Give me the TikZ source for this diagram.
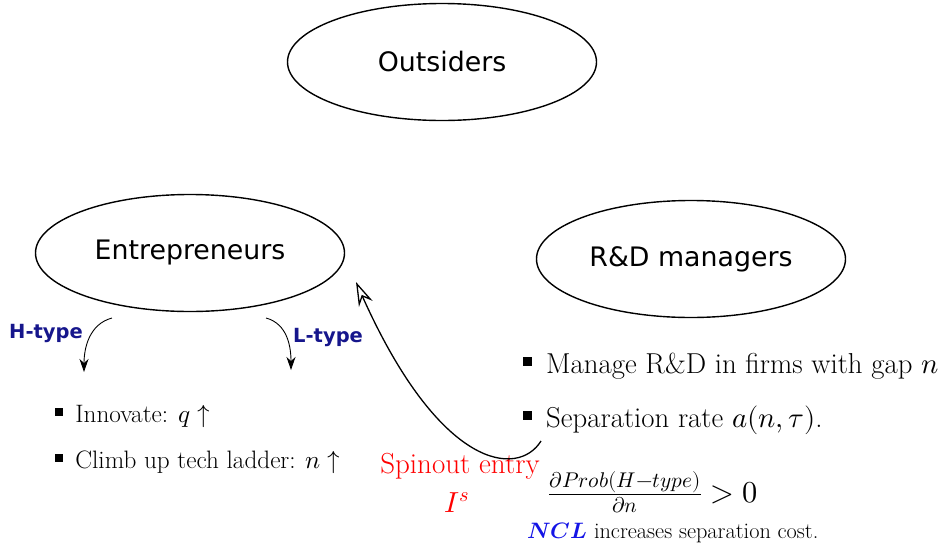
\documentclass[tikz,border=0pt]{standalone}
\usepackage{fontspec}
\usepackage{unicode-math}
\setmathfont{Latin Modern Math}
\usetikzlibrary{shapes.geometric,arrows.meta}
\newfontfamily\dv{DejaVu Sans}
\definecolor{hnavy}{RGB}{22,22,140}
\definecolor{ncblue}{RGB}{20,20,230}
\newcommand{\bsq}{\rule[0.25em]{0.3em}{0.3em}\hspace{0.5em}}
\begin{document}
\begin{tikzpicture}[x=1pt,y=-1pt,
  grp/.style={ellipse,draw,line width=1.4pt,minimum width=309pt,minimum height=117pt,inner sep=0pt,font=\dv\fontsize{26.8}{32}\selectfont},
  typelab/.style={text=hnavy,font=\dv\bfseries\fontsize{19.5}{23}\selectfont,inner sep=0pt},
  thinarr/.style={line width=0.9pt,-{Stealth[length=13pt,width=9pt,inset=4pt]}},
  lefttxt/.style={anchor=base west,inner sep=0pt,font=\fontsize{25.2}{30}\selectfont},
  righttxt/.style={anchor=base west,inner sep=0pt,font=\fontsize{28.8}{34}\selectfont}]
\useasboundingbox (0,0) rectangle (943,544);
\node[grp] (out) at (442,62) {Outsiders};
\node[grp] (ent) at (190,253) {Entrepreneurs};
\node[grp] (rd) at (691,259) {R\&D managers};
\node[typelab,anchor=base west] (ht) at (9,338) {H-type};
\node[typelab,anchor=base west] (lt) at (293,342) {L-type};
\coordinate (hs) at (112,318);
\coordinate (he) at (84,372);
\coordinate (ls) at (266,318);
\coordinate (le) at (291,370);
\draw[thinarr] (hs) to[out=195,in=90] (he);
\draw[thinarr] (ls) to[out=-15,in=90] (le);
\node[lefttxt] (b1) at (55,422) {\bsq Innovate: $q\uparrow$};
\node[lefttxt] (b2) at (55,468) {\bsq Climb up tech ladder: $n\uparrow$};
\node[righttxt] (r1) at (523,373) {\bsq Manage R\&D in firms with gap $n$};
\node[righttxt] (r2) at (523,427) {\bsq Separation rate $a(n,\tau)$.};
\node[anchor=base,inner sep=0pt,text=red,font=\fontsize{29}{34}\selectfont] (sp) at (460,473) {Spinout entry};
\node[anchor=base,inner sep=0pt,text=red,font=\fontsize{29}{34}\selectfont] (is) at (457,512) {$I^s$};
\node[anchor=base west,inner sep=0pt,font=\fontsize{30.4}{36}\selectfont] (fr) at (548,502) {$\frac{\partial Prob(H-type)}{\partial n}>0$};
\node[anchor=base west,inner sep=0pt,font=\fontsize{22.3}{26}\selectfont] (ncl) at (527,538) {\textcolor{ncblue}{$\symbfit{NCL}$} increases separation cost.};
\coordinate (ss) at (541,441);
\coordinate (se) at (356,282);
\draw[line width=1.3pt,-{Stealth[open,length=24pt,width=15pt,inset=8pt]}] (ss) .. controls (518,478) and (440,470) .. (se);
\end{tikzpicture}
\end{document}
